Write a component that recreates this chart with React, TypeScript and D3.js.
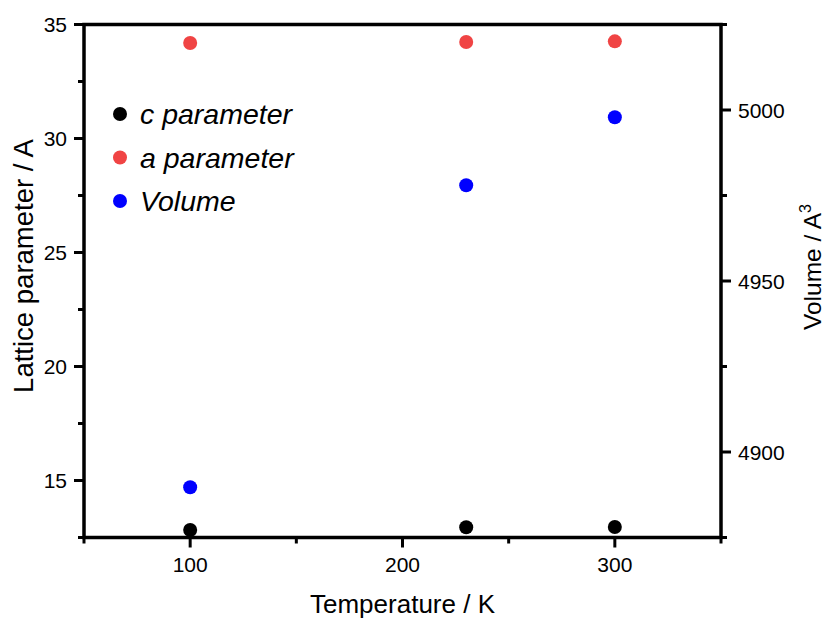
import React from "react";
import * as d3 from "d3";

const temperatures = [100, 230, 300];
const cParameter = [12.83, 12.95, 12.96];
const aParameter = [34.19, 34.23, 34.26];
const volume = [4889.7, 4978.0, 4997.9];

const xMajorTicks = [100, 200, 300];
const xMinorTicks = [50, 150, 250, 350];
const yLeftMajorTicks = [15, 20, 25, 30, 35];
const yLeftMinorTicks = [12.5, 17.5, 22.5, 27.5, 32.5];
const yRightMajorTicks = [4900, 4950, 5000];
const yRightMinorTicks = [4875, 4925, 4975, 5025];

const legendItems = [
  { label: "c parameter", color: "#000000" },
  { label: "a parameter", color: "#F04444" },
  { label: "Volume", color: "#0000FF" },
];

const W = 827;
const H = 619;
const M = { left: 84, right: 721, top: 24.5, bottom: 537.5 };
const FONT = "'Liberation Sans', Arial, Helvetica, sans-serif";

export default function App() {
  const x = d3.scaleLinear().domain([50, 350]).range([M.left, M.right]);
  const yL = d3.scaleLinear().domain([12.5, 35]).range([M.bottom, M.top]);
  const yR = d3.scaleLinear().domain([4875, 5025]).range([M.bottom, M.top]);

  const lw = 3.5;
  const majorLen = 10;
  const minorLen = 6;
  const r = 7;

  return (
    <svg
      width={W}
      height={H}
      style={{ position: "absolute", left: 0, top: 0, background: "#fff" }}
      fontFamily={FONT}
    >
      <rect x={0} y={0} width={W} height={H} fill="#fff" />
      {/* frame */}
      <rect
        x={M.left}
        y={M.top}
        width={M.right - M.left}
        height={M.bottom - M.top}
        fill="none"
        stroke="#000"
        strokeWidth={lw}
      />
      {/* bottom ticks */}
      {xMajorTicks.map((t) => (
        <g key={"xm" + t}>
          <line x1={x(t)} x2={x(t)} y1={M.bottom} y2={M.bottom + majorLen} stroke="#000" strokeWidth={3} />
          <text x={x(t)} y={572} fontSize={21} textAnchor="middle">{t}</text>
        </g>
      ))}
      {xMinorTicks.map((t) => (
        <line key={"xn" + t} x1={x(t)} x2={x(t)} y1={M.bottom} y2={M.bottom + minorLen} stroke="#000" strokeWidth={3} />
      ))}
      {/* left ticks */}
      {yLeftMajorTicks.map((t) => (
        <g key={"ylm" + t}>
          <line x1={M.left - majorLen} x2={M.left} y1={yL(t)} y2={yL(t)} stroke="#000" strokeWidth={3} />
          <text x={67} y={yL(t)} dy="0.36em" fontSize={21} textAnchor="end">{t}</text>
        </g>
      ))}
      {yLeftMinorTicks.map((t) => (
        <line key={"yln" + t} x1={M.left - minorLen} x2={M.left} y1={yL(t)} y2={yL(t)} stroke="#000" strokeWidth={3} />
      ))}
      {/* right ticks */}
      {yRightMajorTicks.map((t) => (
        <g key={"yrm" + t}>
          <line x1={M.right} x2={M.right + majorLen} y1={yR(t)} y2={yR(t)} stroke="#000" strokeWidth={3} />
          <text x={738} y={yR(t)} dy="0.36em" fontSize={21} textAnchor="start">{t}</text>
        </g>
      ))}
      {yRightMinorTicks.map((t) => (
        <line key={"yrn" + t} x1={M.right} x2={M.right + minorLen} y1={yR(t)} y2={yR(t)} stroke="#000" strokeWidth={3} />
      ))}
      {/* data */}
      {temperatures.map((t, i) => (
        <circle key={"c" + i} cx={x(t)} cy={yL(cParameter[i])} r={r} fill={legendItems[0].color} />
      ))}
      {temperatures.map((t, i) => (
        <circle key={"a" + i} cx={x(t)} cy={yL(aParameter[i])} r={r} fill={legendItems[1].color} />
      ))}
      {temperatures.map((t, i) => (
        <circle key={"v" + i} cx={x(t)} cy={yR(volume[i])} r={r} fill={legendItems[2].color} />
      ))}
      {/* legend */}
      {legendItems.map((it, i) => (
        <g key={"lg" + i} transform={`translate(120, ${114 + i * 43.5})`}>
          <circle cx={0} cy={0} r={r} fill={it.color} />
          <text x={20} y={0} dy="0.36em" fontSize={28.5} fontStyle="italic">{it.label}</text>
        </g>
      ))}
      {/* axis titles */}
      <text x={402.5} y={613} fontSize={26} textAnchor="middle">Temperature / K</text>
      <text transform={`translate(33, 266) rotate(-90)`} fontSize={27.5} textAnchor="middle">Lattice parameter / A</text>
      <text transform={`translate(821, 267) rotate(-90)`} fontSize={24.5} textAnchor="middle">
        Volume / A<tspan dy={-10} fontSize={16}>3</tspan>
      </text>
    </svg>
  );
}
